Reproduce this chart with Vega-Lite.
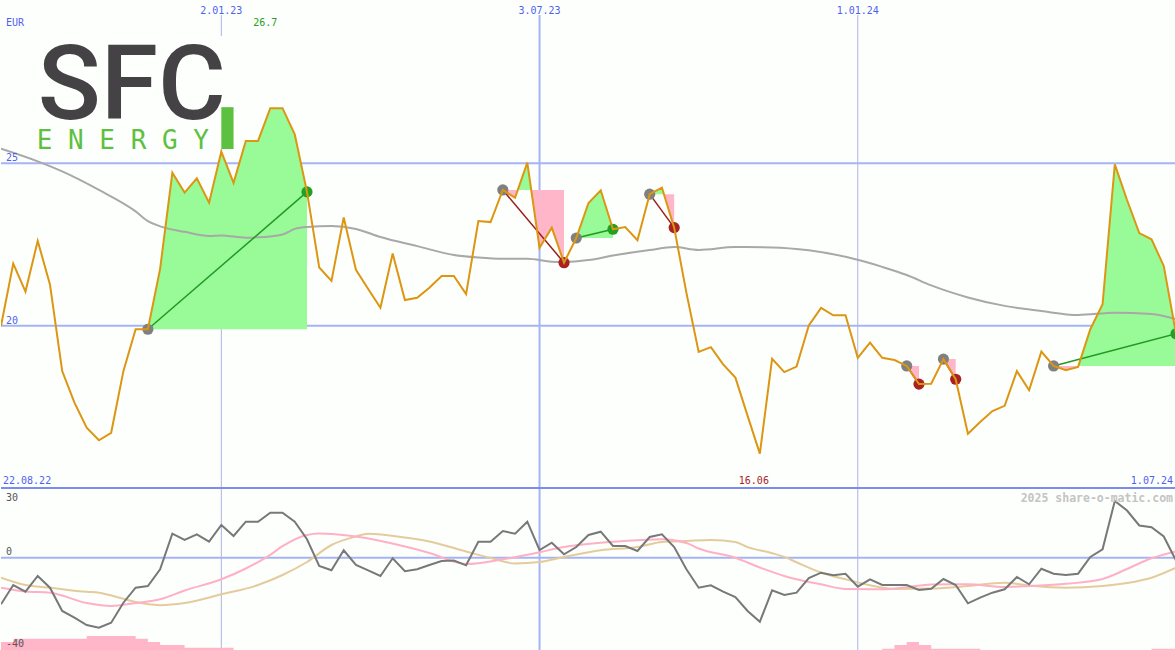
{
"$schema": "https://vega.github.io/schema/vega-lite/v6.json",
"padding": 0,
"spacing": 0,
"bounds": "flush",
"background": "#fdfffd",
"config": {"view": {"stroke": null}},
"data": {"values": [
{"d":"2022-08-29","p":19.99,"o":-19.94,"h":-36.1},
{"d":"2022-09-05","p":21.91,"o":-11.66,"h":-34.7},
{"d":"2022-09-12","p":21.05,"o":-14.53,"h":-34.7},
{"d":"2022-09-19","p":22.61,"o":-7.79,"h":-34.7},
{"d":"2022-09-26","p":21.27,"o":-12.82,"h":-34.7},
{"d":"2022-10-03","p":18.60,"o":-22.82,"h":-34.7},
{"d":"2022-10-10","p":17.63,"o":-25.70,"h":-34.7},
{"d":"2022-10-17","p":16.86,"o":-28.83,"h":-33.6},
{"d":"2022-10-24","p":16.47,"o":-29.99,"h":-33.6},
{"d":"2022-10-31","p":16.70,"o":-27.85,"h":-33.6},
{"d":"2022-11-07","p":18.60,"o":-19.26,"h":-33.6},
{"d":"2022-11-14","p":19.89,"o":-12.82,"h":-34.7},
{"d":"2022-11-21","p":19.89,"o":-12.09,"h":-36.1},
{"d":"2022-11-28","p":21.75,"o":-4.91,"h":-37.4},
{"d":"2022-12-05","p":24.71,"o":10.37,"h":-37.4},
{"d":"2022-12-12","p":24.10,"o":7.67,"h":-38.6},
{"d":"2022-12-19","p":24.54,"o":10.12,"h":-38.6},
{"d":"2022-12-26","p":23.79,"o":6.94,"h":-38.6},
{"d":"2023-01-02","p":25.36,"o":14.11,"h":-38.6},
{"d":"2023-01-09","p":24.40,"o":9.39,"h":-40},
{"d":"2023-01-16","p":25.69,"o":15.53,"h":-40},
{"d":"2023-01-23","p":25.69,"o":15.53,"h":-40},
{"d":"2023-01-30","p":26.70,"o":19.39,"h":-40},
{"d":"2023-02-06","p":26.70,"o":19.39,"h":-40},
{"d":"2023-02-13","p":25.89,"o":15.53,"h":-40},
{"d":"2023-02-20","p":24.12,"o":7.97,"h":-40},
{"d":"2023-02-27","p":21.79,"o":-3.50,"h":-40},
{"d":"2023-03-06","p":21.38,"o":-5.34,"h":-40},
{"d":"2023-03-13","p":23.33,"o":3.25,"h":-40},
{"d":"2023-03-20","p":21.72,"o":-3.07,"h":-40},
{"d":"2023-03-27","p":21.13,"o":-5.34,"h":-40},
{"d":"2023-04-03","p":20.55,"o":-7.79,"h":-40},
{"d":"2023-04-10","p":22.22,"o":-0.19,"h":-40},
{"d":"2023-04-17","p":20.79,"o":-5.77,"h":-40},
{"d":"2023-04-24","p":20.86,"o":-4.91,"h":-40},
{"d":"2023-05-01","p":21.17,"o":-3.07,"h":-40},
{"d":"2023-05-08","p":21.53,"o":-1.35,"h":-40},
{"d":"2023-05-15","p":21.53,"o":-1.13,"h":-40},
{"d":"2023-05-22","p":20.97,"o":-3.20,"h":-40},
{"d":"2023-05-29","p":23.22,"o":6.94,"h":-40},
{"d":"2023-06-05","p":23.19,"o":6.94,"h":-40},
{"d":"2023-06-12","p":24.18,"o":11.53,"h":-40},
{"d":"2023-06-19","p":23.94,"o":10.37,"h":-40},
{"d":"2023-06-26","p":25.02,"o":15.53,"h":-40},
{"d":"2023-07-03","p":22.40,"o":3.37,"h":-40},
{"d":"2023-07-10","p":23.02,"o":6.51,"h":-40},
{"d":"2023-07-17","p":21.94,"o":1.53,"h":-40},
{"d":"2023-07-24","p":22.70,"o":4.66,"h":-40},
{"d":"2023-07-31","p":23.78,"o":9.82,"h":-40},
{"d":"2023-08-07","p":24.17,"o":11.23,"h":-40},
{"d":"2023-08-14","p":22.97,"o":5.09,"h":-40},
{"d":"2023-08-21","p":23.04,"o":5.09,"h":-40},
{"d":"2023-08-28","p":22.63,"o":2.94,"h":-40},
{"d":"2023-09-04","p":24.05,"o":8.96,"h":-40},
{"d":"2023-09-11","p":24.25,"o":10.12,"h":-40},
{"d":"2023-09-18","p":23.02,"o":4.66,"h":-40},
{"d":"2023-09-25","p":21.01,"o":-4.91,"h":-40},
{"d":"2023-10-02","p":19.19,"o":-12.82,"h":-40},
{"d":"2023-10-09","p":19.34,"o":-11.78,"h":-40},
{"d":"2023-10-16","p":18.81,"o":-14.53,"h":-40},
{"d":"2023-10-23","p":18.40,"o":-16.81,"h":-40},
{"d":"2023-10-30","p":17.22,"o":-22.82,"h":-40},
{"d":"2023-11-06","p":16.06,"o":-27.42,"h":-40},
{"d":"2023-11-13","p":18.98,"o":-13.93,"h":-40},
{"d":"2023-11-20","p":18.57,"o":-15.95,"h":-40},
{"d":"2023-11-27","p":18.74,"o":-14.96,"h":-40},
{"d":"2023-12-04","p":20.01,"o":-8.65,"h":-40},
{"d":"2023-12-11","p":20.55,"o":-6.37,"h":-40},
{"d":"2023-12-18","p":20.32,"o":-7.49,"h":-40},
{"d":"2023-12-25","p":20.32,"o":-6.80,"h":-40},
{"d":"2024-01-01","p":19.01,"o":-12.39,"h":-40},
{"d":"2024-01-08","p":19.48,"o":-9.21,"h":-40},
{"d":"2024-01-15","p":19.01,"o":-11.66,"h":-39.0},
{"d":"2024-01-22","p":18.94,"o":-11.66,"h":-37.4},
{"d":"2024-01-29","p":18.76,"o":-11.66,"h":-36.1},
{"d":"2024-02-05","p":18.20,"o":-13.80,"h":-37.4},
{"d":"2024-02-12","p":18.21,"o":-13.24,"h":-39.0},
{"d":"2024-02-19","p":18.97,"o":-9.08,"h":-39.0},
{"d":"2024-02-26","p":18.35,"o":-11.66,"h":-39.0},
{"d":"2024-03-04","p":16.67,"o":-19.52,"h":-39.0},
{"d":"2024-03-11","p":17.03,"o":-17.11,"h":-40},
{"d":"2024-03-18","p":17.37,"o":-14.96,"h":-40},
{"d":"2024-03-25","p":17.53,"o":-13.50,"h":-40},
{"d":"2024-04-01","p":18.60,"o":-8.22,"h":-40},
{"d":"2024-04-08","p":18.01,"o":-11.36,"h":-40},
{"d":"2024-04-15","p":19.20,"o":-4.66,"h":-40},
{"d":"2024-04-22","p":18.76,"o":-6.80,"h":-40},
{"d":"2024-04-29","p":18.63,"o":-7.36,"h":-40},
{"d":"2024-05-06","p":18.73,"o":-6.80,"h":-40},
{"d":"2024-05-13","p":19.89,"o":0.37,"h":-40},
{"d":"2024-05-20","p":20.66,"o":3.67,"h":-40},
{"d":"2024-05-27","p":24.97,"o":24.42,"h":-40},
{"d":"2024-06-03","p":23.87,"o":20.34,"h":-40},
{"d":"2024-06-10","p":22.85,"o":13.90,"h":-40},
{"d":"2024-06-17","p":22.66,"o":13.12,"h":-39.0},
{"d":"2024-06-24","p":21.84,"o":9.17,"h":-39.0},
{"d":"2024-07-01","p":19.75,"o":-1.13,"h":-39.0}
]},
"vconcat": [
{
"width": 1175, "height": 487,
"layer": [
{"data": {"values": [{"v":25},{"v":20}]}, "mark": {"type":"rule","color":"#a4b4f4","strokeWidth":2},
 "encoding": {"y": {"field":"v","type":"quantitative","axis":null,"scale":{"domain":[15,30],"zero":false,"nice":false}}}},
{"data": {"values": [{"d":"2023-01-02"},{"d":"2024-01-01"}]}, "mark": {"type":"rule","color":"#adb4e4","strokeWidth":1},
 "encoding": {"x": {"field":"d","type":"temporal","axis":null,"scale":{"nice":false}}}},
{"data": {"values": [{"d":"2023-07-03"}]}, "mark": {"type":"rule","color":"#a4b4f4","strokeWidth":2},
 "encoding": {"x": {"field":"d","type":"temporal","axis":null}}},
{"data": {"values": [{"d1":"2022-08-29","d2":"2023-01-09","v1":28.92,"v2":25.44}]}, "mark": {"type":"rect","color":"#fdfffd"},
 "encoding": {"x": {"field":"d1","type":"temporal","axis":null}, "x2": {"field":"d2"}, "y": {"field":"v1","type":"quantitative","axis":null}, "y2": {"field":"v2"}}},
{"data": {"values": [{"d":"2023-01-02","v":30},{"d":"2023-07-03","v":30},{"d":"2024-01-01","v":30}]}, "mark": {"type":"rect","color":"#fdfffd","width":46,"height":14,"yOffset":7},
 "encoding": {"x": {"field":"d","type":"temporal","axis":null}, "y": {"field":"v","type":"quantitative","axis":null}}},
{"data": {"values": [
{"g":"1","d":"2022-11-21","a":19.89,"b":19.89},{"g":"1","d":"2022-11-28","a":21.75,"b":19.89},
{"g":"1","d":"2022-12-05","a":24.71,"b":19.89},{"g":"1","d":"2022-12-12","a":24.10,"b":19.89},
{"g":"1","d":"2022-12-19","a":24.54,"b":19.89},{"g":"1","d":"2022-12-26","a":23.79,"b":19.89},
{"g":"1","d":"2023-01-02","a":25.36,"b":19.89},{"g":"1","d":"2023-01-09","a":24.40,"b":19.89},
{"g":"1","d":"2023-01-16","a":25.69,"b":19.89},{"g":"1","d":"2023-01-23","a":25.69,"b":19.89},
{"g":"1","d":"2023-01-30","a":26.70,"b":19.89},{"g":"1","d":"2023-02-06","a":26.70,"b":19.89},
{"g":"1","d":"2023-02-13","a":25.89,"b":19.89},{"g":"1","d":"2023-02-20","a":24.12,"b":19.89},
{"g":"2b","d":"2023-06-20T13:00:00Z","a":24.18,"b":24.18},{"g":"2b","d":"2023-06-26","a":25.02,"b":24.18},
{"g":"2b","d":"2023-06-28T06:00:00Z","a":24.18,"b":24.18},
{"g":"3","d":"2023-07-24","a":22.70,"b":22.70},{"g":"3","d":"2023-07-31","a":23.78,"b":22.70},
{"g":"3","d":"2023-08-07","a":24.17,"b":22.70},{"g":"3","d":"2023-08-14","a":22.97,"b":22.70},
{"g":"4a","d":"2023-09-04","a":24.05,"b":24.05},{"g":"4a","d":"2023-09-11","a":24.25,"b":24.05},
{"g":"4a","d":"2023-09-12T03:00:00Z","a":24.05,"b":24.05},
{"g":"7b","d":"2024-05-06T05:00:00Z","a":18.76,"b":18.76},{"g":"7b","d":"2024-05-13","a":19.89,"b":18.76},
{"g":"7b","d":"2024-05-20","a":20.66,"b":18.76},{"g":"7b","d":"2024-05-27","a":24.97,"b":18.76},
{"g":"7b","d":"2024-06-03","a":23.87,"b":18.76},{"g":"7b","d":"2024-06-10","a":22.85,"b":18.76},
{"g":"7b","d":"2024-06-17","a":22.66,"b":18.76},{"g":"7b","d":"2024-06-24","a":21.84,"b":18.76},
{"g":"7b","d":"2024-07-01","a":19.75,"b":18.76}
]}, "mark": {"type":"area","color":"#98fb98","opacity":1,"clip":true},
 "encoding": {"x": {"field":"d","type":"temporal","axis":null}, "y": {"field":"a","type":"quantitative","axis":null}, "y2": {"field":"b"}, "detail": {"field":"g","type":"nominal"}}},
{"data": {"values": [
{"g":"2a","d":"2023-06-12","a":24.18,"b":24.18},{"g":"2a","d":"2023-06-19","a":23.94,"b":24.18},
{"g":"2a","d":"2023-06-20T13:00:00Z","a":24.18,"b":24.18},
{"g":"2c","d":"2023-06-28T06:00:00Z","a":24.18,"b":24.18},{"g":"2c","d":"2023-07-03","a":22.40,"b":24.18},
{"g":"2c","d":"2023-07-10","a":23.02,"b":24.18},{"g":"2c","d":"2023-07-17","a":21.94,"b":24.18},
{"g":"4b","d":"2023-09-12T03:00:00Z","a":24.05,"b":24.05},{"g":"4b","d":"2023-09-18","a":23.02,"b":24.05},
{"g":"5","d":"2024-01-29","a":18.76,"b":18.76},{"g":"5","d":"2024-02-05","a":18.20,"b":18.76},
{"g":"6","d":"2024-02-19","a":18.97,"b":18.97},{"g":"6","d":"2024-02-26","a":18.35,"b":18.97},
{"g":"7a","d":"2024-04-22","a":18.76,"b":18.76},{"g":"7a","d":"2024-04-29","a":18.63,"b":18.76},
{"g":"7a","d":"2024-05-06","a":18.73,"b":18.76},{"g":"7a","d":"2024-05-06T05:00:00Z","a":18.76,"b":18.76}
]}, "mark": {"type":"area","color":"#ffb6c8","opacity":1,"clip":true},
 "encoding": {"x": {"field":"d","type":"temporal","axis":null}, "y": {"field":"a","type":"quantitative","axis":null}, "y2": {"field":"b"}, "detail": {"field":"g","type":"nominal"}}},
{"data": {"values": [
{"d":"2022-08-29","v":25.45},{"d":"2022-09-19","v":25.06},{"d":"2022-10-03","v":24.75},{"d":"2022-10-24","v":24.18},
{"d":"2022-11-14","v":23.52},{"d":"2022-11-21","v":23.22},{"d":"2022-11-28","v":23.06},{"d":"2022-12-12","v":22.89},
{"d":"2022-12-26","v":22.76},{"d":"2023-01-02","v":22.78},{"d":"2023-01-16","v":22.71},{"d":"2023-01-23","v":22.72},
{"d":"2023-02-06","v":22.81},{"d":"2023-02-13","v":22.98},{"d":"2023-02-20","v":23.04},{"d":"2023-03-06","v":23.07},
{"d":"2023-03-20","v":22.98},{"d":"2023-04-03","v":22.73},{"d":"2023-04-24","v":22.45},{"d":"2023-05-15","v":22.18},
{"d":"2023-05-29","v":22.10},{"d":"2023-06-12","v":22.06},{"d":"2023-06-26","v":22.06},{"d":"2023-07-10","v":21.97},
{"d":"2023-07-17","v":21.96},{"d":"2023-07-31","v":22.02},{"d":"2023-08-14","v":22.16},{"d":"2023-09-04","v":22.33},
{"d":"2023-09-18","v":22.42},{"d":"2023-10-02","v":22.33},{"d":"2023-10-23","v":22.42},{"d":"2023-11-13","v":22.41},
{"d":"2023-12-04","v":22.32},{"d":"2023-12-25","v":22.12},{"d":"2024-01-15","v":21.81},{"d":"2024-01-29","v":21.56},
{"d":"2024-02-12","v":21.24},{"d":"2024-03-04","v":20.87},{"d":"2024-03-25","v":20.61},{"d":"2024-04-15","v":20.45},
{"d":"2024-05-06","v":20.33},{"d":"2024-05-27","v":20.40},{"d":"2024-06-17","v":20.36},{"d":"2024-07-01","v":20.20}
]}, "mark": {"type":"line","color":"#a8a8a8","strokeWidth":2,"interpolate":"monotone","clip":true},
 "encoding": {"x": {"field":"d","type":"temporal","axis":null}, "y": {"field":"v","type":"quantitative","axis":null}}},
{"data": {"values": [
{"t":1,"d":"2022-11-21","p":19.89},{"t":1,"d":"2023-02-20","p":24.12},
{"t":3,"d":"2023-07-24","p":22.70},{"t":3,"d":"2023-08-14","p":22.97},
{"t":7,"d":"2024-04-22","p":18.76},{"t":7,"d":"2024-07-01","p":19.75}
]}, "mark": {"type":"line","color":"#229922","strokeWidth":1.5,"clip":true},
 "encoding": {"x": {"field":"d","type":"temporal","axis":null}, "y": {"field":"p","type":"quantitative","axis":null}, "detail": {"field":"t","type":"nominal"}}},
{"data": {"values": [
{"t":2,"d":"2023-06-12","p":24.18},{"t":2,"d":"2023-07-17","p":21.94},
{"t":4,"d":"2023-09-04","p":24.05},{"t":4,"d":"2023-09-18","p":23.02},
{"t":5,"d":"2024-01-29","p":18.76},{"t":5,"d":"2024-02-05","p":18.20},
{"t":6,"d":"2024-02-19","p":18.97},{"t":6,"d":"2024-02-26","p":18.35}
]}, "mark": {"type":"line","color":"#9b1c1c","strokeWidth":1.5,"clip":true},
 "encoding": {"x": {"field":"d","type":"temporal","axis":null}, "y": {"field":"p","type":"quantitative","axis":null}, "detail": {"field":"t","type":"nominal"}}},
{"data": {"values": [
{"d":"2022-11-21","p":19.89},{"d":"2023-06-12","p":24.18},{"d":"2023-07-24","p":22.70},{"d":"2023-09-04","p":24.05},
{"d":"2024-01-29","p":18.76},{"d":"2024-02-19","p":18.97},{"d":"2024-04-22","p":18.76}
]}, "mark": {"type":"circle","color":"#808080","size":125,"opacity":1,"clip":true},
 "encoding": {"x": {"field":"d","type":"temporal","axis":null}, "y": {"field":"p","type":"quantitative","axis":null}}},
{"data": {"values": [
{"d":"2023-02-20","p":24.12},{"d":"2023-08-14","p":22.97},{"d":"2024-07-01","p":19.75}
]}, "mark": {"type":"circle","color":"#22a022","size":125,"opacity":1,"clip":true},
 "encoding": {"x": {"field":"d","type":"temporal","axis":null}, "y": {"field":"p","type":"quantitative","axis":null}}},
{"data": {"values": [
{"d":"2023-07-17","p":21.94},{"d":"2023-09-18","p":23.02},{"d":"2024-02-05","p":18.20},{"d":"2024-02-26","p":18.35}
]}, "mark": {"type":"circle","color":"#a82222","size":125,"opacity":1,"clip":true},
 "encoding": {"x": {"field":"d","type":"temporal","axis":null}, "y": {"field":"p","type":"quantitative","axis":null}}},
{"mark": {"type":"line","color":"#dc9612","strokeWidth":2,"clip":true},
 "encoding": {"x": {"field":"d","type":"temporal","axis":null}, "y": {"field":"p","type":"quantitative","axis":null}}},
{"data": {"values": [{"d":"2023-01-02","v":30,"t":"2.01.23"},{"d":"2023-07-03","v":30,"t":"3.07.23"},{"d":"2024-01-01","v":30,"t":"1.01.24"}]},
 "mark": {"type":"text","font":"DejaVu Sans Mono","fontSize":10,"color":"#4f5ff0","align":"center","baseline":"alphabetic","dy":13},
 "encoding": {"x": {"field":"d","type":"temporal","axis":null}, "y": {"field":"v","type":"quantitative","axis":null}, "text": {"field":"t","type":"nominal"}}},
{"data": {"values": [{"d":"2022-08-29","v":25,"t":"25"},{"d":"2022-08-29","v":20,"t":"20"}]},
 "mark": {"type":"text","font":"DejaVu Sans Mono","fontSize":10,"color":"#4f5ff0","align":"left","baseline":"alphabetic","dx":5,"dy":-2},
 "encoding": {"x": {"field":"d","type":"temporal","axis":null}, "y": {"field":"v","type":"quantitative","axis":null}, "text": {"field":"t","type":"nominal"}}},
{"data": {"values": [{"d":"2022-08-29","v":30,"t":"EUR"}]}, "mark": {"type":"text","font":"DejaVu Sans Mono","fontSize":10,"color":"#4f5ff0","align":"left","baseline":"alphabetic","dx":5,"dy":25},
 "encoding": {"x": {"field":"d","type":"temporal","axis":null}, "y": {"field":"v","type":"quantitative","axis":null}, "text": {"field":"t","type":"nominal"}}},
{"data": {"values": [{"d":"2023-01-30","v":30,"t":"26.7"}]}, "mark": {"type":"text","font":"DejaVu Sans Mono","fontSize":10,"color":"#22a022","align":"center","baseline":"alphabetic","dx":-5,"dy":25},
 "encoding": {"x": {"field":"d","type":"temporal","axis":null}, "y": {"field":"v","type":"quantitative","axis":null}, "text": {"field":"t","type":"nominal"}}},
{"data": {"values": [{"d":"2022-08-29","v":15,"t":"22.08.22"}]}, "mark": {"type":"text","font":"DejaVu Sans Mono","fontSize":10,"color":"#4f5ff0","align":"left","baseline":"alphabetic","dx":2,"dy":-4},
 "encoding": {"x": {"field":"d","type":"temporal","axis":null}, "y": {"field":"v","type":"quantitative","axis":null}, "text": {"field":"t","type":"nominal"}}},
{"data": {"values": [{"d":"2024-07-01","v":15,"t":"1.07.24"}]}, "mark": {"type":"text","font":"DejaVu Sans Mono","fontSize":10,"color":"#4f5ff0","align":"right","baseline":"alphabetic","dx":-3,"dy":-4},
 "encoding": {"x": {"field":"d","type":"temporal","axis":null}, "y": {"field":"v","type":"quantitative","axis":null}, "text": {"field":"t","type":"nominal"}}},
{"data": {"values": [{"d":"2023-11-06","v":15,"t":"16.06"}]}, "mark": {"type":"text","font":"DejaVu Sans Mono","fontSize":10,"color":"#aa2222","align":"center","baseline":"alphabetic","dx":-6,"dy":-4},
 "encoding": {"x": {"field":"d","type":"temporal","axis":null}, "y": {"field":"v","type":"quantitative","axis":null}, "text": {"field":"t","type":"nominal"}}},
{"data": {"values": [{"d":"2022-09-19","v":26.37,"t":"SFC"}]}, "mark": {"type":"text","color":"#454245","align":"left","baseline":"alphabetic","font":"Roboto","fontSize":104,"fontWeight":500},
 "encoding": {"x": {"field":"d","type":"temporal","axis":null}, "y": {"field":"v","type":"quantitative","axis":null}, "text": {"field":"t","type":"nominal"}}},
{"data": {"values": [{"d":"2022-09-19","v":25.44,"t":"E N E R G Y"}]}, "mark": {"type":"text","color":"#5ec040","align":"left","baseline":"alphabetic","font":"DejaVu Sans Mono","fontSize":26,"dx":-1},
 "encoding": {"x": {"field":"d","type":"temporal","axis":null}, "y": {"field":"v","type":"quantitative","axis":null}, "text": {"field":"t","type":"nominal"}}},
{"data": {"values": [{"d1":"2023-01-02","d2":"2023-01-09","v1":26.73,"v2":25.44}]}, "mark": {"type":"rect","color":"#5ec040"},
 "encoding": {"x": {"field":"d1","type":"temporal","axis":null}, "x2": {"field":"d2"}, "y": {"field":"v1","type":"quantitative","axis":null}, "y2": {"field":"v2"}}}
]
},
{
"width": 1175, "height": 163,
"layer": [
{"data": {"values": [{"v":0}]}, "mark": {"type":"rule","color":"#a4b4f4","strokeWidth":2},
 "encoding": {"y": {"field":"v","type":"quantitative","axis":null,"scale":{"domain":[-40,30],"zero":false,"nice":false}}}},
{"data": {"values": [{"d":"2023-01-02"},{"d":"2024-01-01"}]}, "mark": {"type":"rule","color":"#adb4e4","strokeWidth":1},
 "encoding": {"x": {"field":"d","type":"temporal","axis":null,"scale":{"nice":false}}}},
{"data": {"values": [{"d":"2023-07-03"}]}, "mark": {"type":"rule","color":"#a4b4f4","strokeWidth":2},
 "encoding": {"x": {"field":"d","type":"temporal","axis":null}}},
{"mark": {"type":"area","color":"#ffb6c8","interpolate":"step-after","opacity":1,"clip":true},
 "encoding": {"x": {"field":"d","type":"temporal","axis":null}, "y": {"field":"h","type":"quantitative","axis":null}, "y2": {"datum":-40}}},
{"data": {"values": [
{"d":"2022-08-29","v":-8.52},{"d":"2022-09-12","v":-11.66},{"d":"2022-09-26","v":-12.82},{"d":"2022-10-17","v":-14.58},
{"d":"2022-10-24","v":-14.96},{"d":"2022-11-07","v":-17.6},{"d":"2022-11-14","v":-19.0},{"d":"2022-11-28","v":-20.3},
{"d":"2022-12-12","v":-19.39},{"d":"2023-01-02","v":-15.65},{"d":"2023-01-23","v":-11.66},{"d":"2023-02-06","v":-7.36},
{"d":"2023-02-20","v":-1.78},{"d":"2023-03-06","v":5.52},{"d":"2023-03-20","v":9.17},{"d":"2023-03-27","v":10.37},
{"d":"2023-04-17","v":8.74},{"d":"2023-05-01","v":7.02},{"d":"2023-05-22","v":2.73},{"d":"2023-06-05","v":-0.06},
{"d":"2023-06-19","v":-2.42},{"d":"2023-07-03","v":-1.78},{"d":"2023-07-17","v":0.37},{"d":"2023-08-07","v":3.25},
{"d":"2023-08-28","v":4.66},{"d":"2023-09-11","v":6.81},{"d":"2023-09-25","v":7.24},{"d":"2023-10-09","v":7.67},
{"d":"2023-10-23","v":6.81},{"d":"2023-10-30","v":4.6},{"d":"2023-11-13","v":2.0},{"d":"2023-11-20","v":0.4},
{"d":"2023-11-27","v":-1.9},{"d":"2023-12-11","v":-6.3},{"d":"2023-12-25","v":-9.21},{"d":"2024-01-08","v":-11.74},
{"d":"2024-01-22","v":-13.37},{"d":"2024-02-12","v":-13.16},{"d":"2024-03-04","v":-12.09},{"d":"2024-03-25","v":-10.67},
{"d":"2024-04-08","v":-11.87},{"d":"2024-04-29","v":-12.82},{"d":"2024-05-20","v":-12.09},{"d":"2024-06-03","v":-10.80},
{"d":"2024-06-17","v":-8.52},{"d":"2024-07-01","v":-4.23}
]}, "mark": {"type":"line","color":"#e4cb9c","strokeWidth":2,"interpolate":"monotone","clip":true},
 "encoding": {"x": {"field":"d","type":"temporal","axis":null}, "y": {"field":"v","type":"quantitative","axis":null}}},
{"data": {"values": [
{"d":"2022-08-29","v":-12.82},{"d":"2022-09-12","v":-14.45},{"d":"2022-09-26","v":-14.96},{"d":"2022-10-17","v":-19.39},
{"d":"2022-10-31","v":-20.67},{"d":"2022-11-14","v":-19.39},{"d":"2022-11-28","v":-17.80},{"d":"2022-12-12","v":-14.02},
{"d":"2023-01-02","v":-9.21},{"d":"2023-01-16","v":-4.57},{"d":"2023-01-30","v":1.31},{"d":"2023-02-06","v":5.0},
{"d":"2023-02-20","v":9.82},{"d":"2023-02-27","v":10.46},{"d":"2023-03-20","v":9.17},{"d":"2023-04-17","v":4.88},
{"d":"2023-05-01","v":2.09},{"d":"2023-05-22","v":-2.64},{"d":"2023-06-12","v":-0.62},{"d":"2023-07-03","v":2.43},
{"d":"2023-07-17","v":4.66},{"d":"2023-08-07","v":6.51},{"d":"2023-08-28","v":7.58},{"d":"2023-09-11","v":7.97},
{"d":"2023-09-25","v":6.38},{"d":"2023-10-02","v":4.0},{"d":"2023-10-23","v":0.02},{"d":"2023-11-06","v":-4.14},
{"d":"2023-11-20","v":-7.79},{"d":"2023-11-27","v":-9.21},{"d":"2023-12-11","v":-11.36},{"d":"2023-12-25","v":-13.37},
{"d":"2024-01-15","v":-13.50},{"d":"2024-01-29","v":-12.60},{"d":"2024-02-12","v":-11.44},{"d":"2024-03-04","v":-11.36},
{"d":"2024-03-25","v":-12.52},{"d":"2024-04-08","v":-12.09},{"d":"2024-04-29","v":-11.14},{"d":"2024-05-20","v":-9.08},
{"d":"2024-06-03","v":-4.78},{"d":"2024-06-17","v":-0.19},{"d":"2024-07-01","v":2.73}
]}, "mark": {"type":"line","color":"#ffb0c4","strokeWidth":2,"interpolate":"monotone","clip":true},
 "encoding": {"x": {"field":"d","type":"temporal","axis":null}, "y": {"field":"v","type":"quantitative","axis":null}}},
{"mark": {"type":"line","color":"#787878","strokeWidth":2,"clip":true},
 "encoding": {"x": {"field":"d","type":"temporal","axis":null}, "y": {"field":"o","type":"quantitative","axis":null}}},
{"data": {"values": [{"d":"2022-08-29","v":30,"t":"30"}]}, "mark": {"type":"text","font":"DejaVu Sans Mono","fontSize":10,"color":"#555555","align":"left","baseline":"alphabetic","dx":5,"dy":13},
 "encoding": {"x": {"field":"d","type":"temporal","axis":null}, "y": {"field":"v","type":"quantitative","axis":null}, "text": {"field":"t","type":"nominal"}}},
{"data": {"values": [{"d":"2022-08-29","v":0,"t":"0"}]}, "mark": {"type":"text","font":"DejaVu Sans Mono","fontSize":10,"color":"#555555","align":"left","baseline":"alphabetic","dx":5,"dy":-3},
 "encoding": {"x": {"field":"d","type":"temporal","axis":null}, "y": {"field":"v","type":"quantitative","axis":null}, "text": {"field":"t","type":"nominal"}}},
{"data": {"values": [{"d":"2022-08-29","v":-40,"t":"-40"}]}, "mark": {"type":"text","font":"DejaVu Sans Mono","fontSize":10,"color":"#555555","align":"left","baseline":"alphabetic","dx":5,"dy":-4},
 "encoding": {"x": {"field":"d","type":"temporal","axis":null}, "y": {"field":"v","type":"quantitative","axis":null}, "text": {"field":"t","type":"nominal"}}},
{"data": {"values": [{"d":"2024-07-01","v":30,"t":"2025 share-o-matic.com"}]}, "mark": {"type":"text","font":"DejaVu Sans Mono","color":"#c4c4c4","align":"right","baseline":"alphabetic","dx":-3,"dy":14,"fontSize":11.5,"fontWeight":"bold"},
 "encoding": {"x": {"field":"d","type":"temporal","axis":null}, "y": {"field":"v","type":"quantitative","axis":null}, "text": {"field":"t","type":"nominal"}}},
{"data": {"values": [{"v":30}]}, "mark": {"type":"rule","color":"#7b8cee","strokeWidth":2},
 "encoding": {"y": {"field":"v","type":"quantitative","axis":null}}}
]
}
]
}
